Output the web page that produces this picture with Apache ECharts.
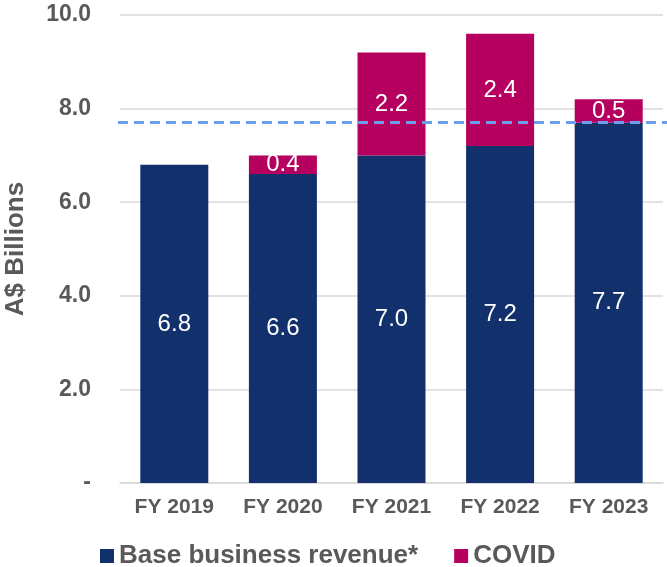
<!DOCTYPE html>
<html>
<head>
<meta charset="utf-8">
<script src="https://cdn.jsdelivr.net/npm/echarts@6/dist/echarts.min.js"></script>
<style>
  html, body { margin: 0; padding: 0; background: #fff; }
  #chart { width: 667px; height: 567px; }
</style>
</head>
<body>
<div id="chart"></div>
<script>
// data
const years = ['FY 2019', 'FY 2020', 'FY 2021', 'FY 2022', 'FY 2023']
const baseRevenue = [6.8, 6.6, 7.0, 7.2, 7.7]
const covidRevenue = [null, 0.4, 2.2, 2.4, 0.5]
const baseLine = 7.7
const yTicks = [0, 2, 4, 6, 8, 10]

const font = 'Arial, "Liberation Sans", sans-serif'
const grey = '#595959'

const chart = echarts.init(document.getElementById('chart'))

const option = {
  animation: false,
  textStyle: { fontFamily: font },
  grid: { left: 120, right: 4, top: 15, bottom: 84, containLabel: false, outerBoundsMode: 'none' },
  legend: {
    top: 538,
    left: 95,
    itemWidth: 14,
    itemHeight: 14,
    itemGap: 36,
    icon: 'rect',
    textStyle: { fontSize: 26, fontWeight: 'bold', color: grey, fontFamily: font }
  },
  xAxis: {
    type: 'category',
    data: years,
    axisTick: { show: false },
    axisLine: { lineStyle: { color: '#d9d9d9', width: 1.5 } },
    axisLabel: { fontSize: 21, fontWeight: 'bold', color: grey, margin: 14, fontFamily: font }
  },
  yAxis: {
    type: 'value',
    min: yTicks[0],
    max: yTicks[yTicks.length - 1],
    interval: 2,
    name: 'A$ Billions',
    nameLocation: 'middle',
    nameGap: 91,
    nameTextStyle: { fontSize: 26, fontWeight: 'bold', color: grey, fontFamily: font },
    axisLabel: {
      fontSize: 23, fontWeight: 'bold', color: grey, margin: 29, fontFamily: font,
      formatter: v => v === 0 ? '-' : v.toFixed(1)
    },
    splitLine: { lineStyle: { color: '#d9d9d9', width: 1.5 } }
  },
  series: [
    {
      name: 'Base business revenue*',
      type: 'bar',
      stack: 'rev',
      barWidth: 68,
      data: baseRevenue,
      itemStyle: { color: '#12306b' },
      label: {
        show: true, position: 'inside', color: '#fff', fontSize: 24, fontFamily: font,
        formatter: p => p.value.toFixed(1)
      },
      markLine: {
        symbol: 'none',
        silent: true,
        label: { show: false },
        lineStyle: { color: '#6d9eeb', type: [10, 6], width: 3 },
        data: [[{ xAxis: 0, yAxis: baseLine, x: 118 }, { yAxis: baseLine, x: 667 }]]
      }
    },
    {
      name: 'COVID',
      type: 'bar',
      stack: 'rev',
      barWidth: 68,
      data: covidRevenue,
      itemStyle: { color: '#b5005f' },
      label: {
        show: true, position: 'inside', color: '#fff', fontSize: 24, fontFamily: font,
        formatter: p => p.value == null ? '' : p.value.toFixed(1)
      }
    }
  ]
}

chart.setOption(option)
</script>
</body>
</html>
